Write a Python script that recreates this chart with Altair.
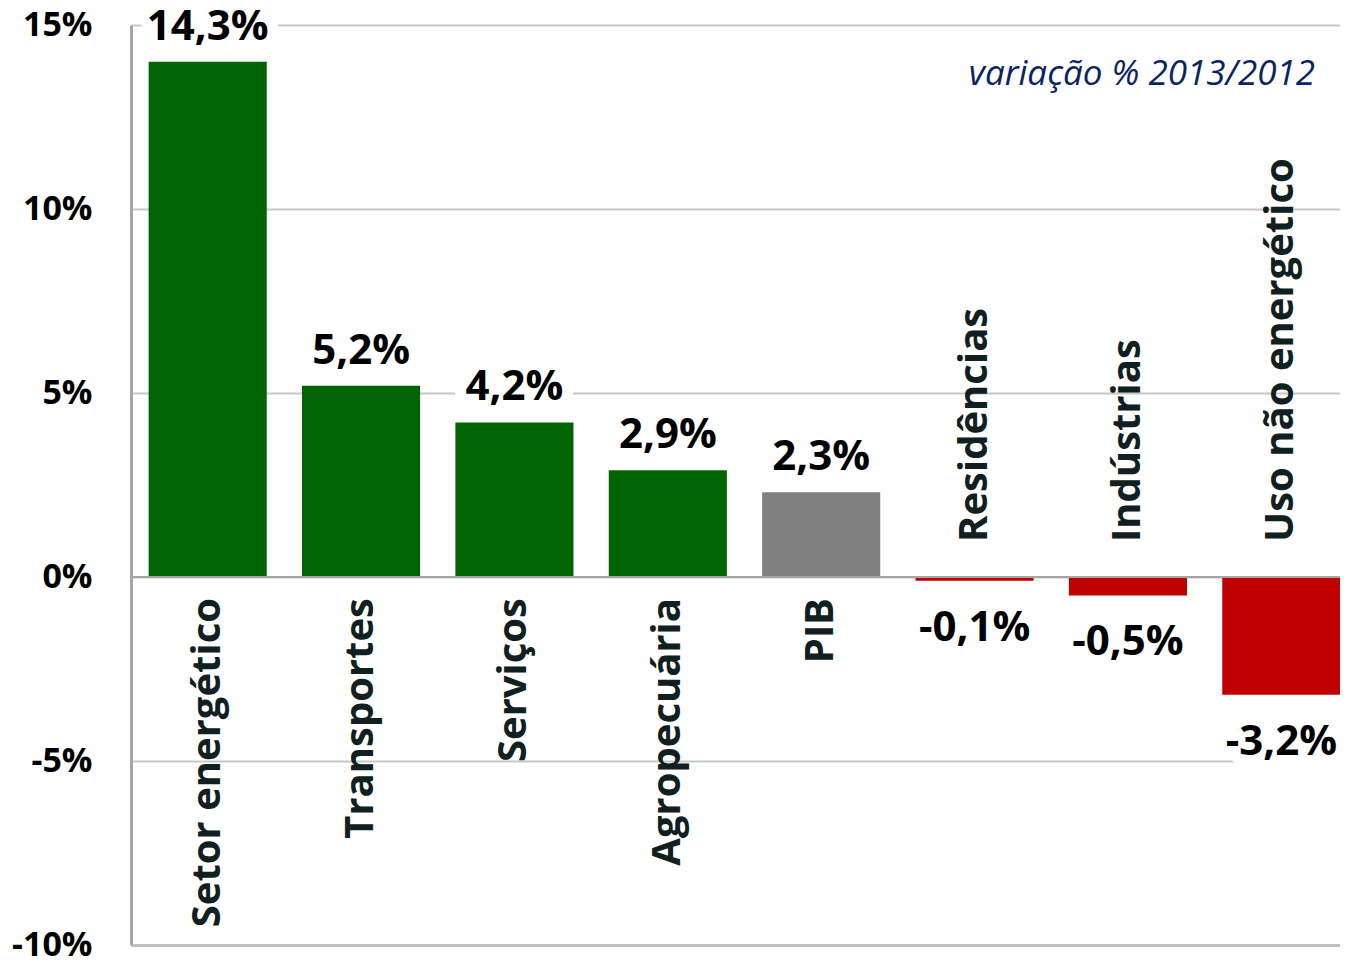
import altair as alt
import pandas as pd

categorias = ["Setor energético", "Transportes", "Serviços", "Agropecuária",
              "PIB", "Residências", "Indústrias", "Uso não energético"]
valores = [14.0, 5.2, 4.2, 2.9, 2.3, -0.1, -0.5, -3.2]
rotulos = ["14,3%", "5,2%", "4,2%", "2,9%", "2,3%", "-0,1%", "-0,5%", "-3,2%"]
cores = ["#006400", "#006400", "#006400", "#006400", "#808080",
         "#C00000", "#C00000", "#C00000"]
ticks_y = [-10, -5, 0, 5, 10, 15]
subtitulo = "variação % 2013/2012"

df = pd.DataFrame({"categoria": categorias, "valor": valores,
                   "rotulo": rotulos, "cor": cores})

FONT = "Open Sans"

xenc = alt.X("categoria:N", sort=categorias,
             scale=alt.Scale(range=[0, 1227], paddingInner=0.23, paddingOuter=0.115),
             axis=alt.Axis(labels=False, ticks=False, title=None, grid=False,
                           domain=True, domainColor="#bfbfbf", domainWidth=3))
yscale = alt.Scale(domain=[-10, 15], nice=False, zero=False)

base = alt.Chart(df).encode(x=xenc)

bars = base.mark_bar().encode(
    y=alt.Y("valor:Q", scale=yscale,
            axis=alt.Axis(values=ticks_y, labelExpr="datum.value + '%'",
                          labelFont=FONT, labelFontSize=34, labelFontWeight="bold",
                          labelColor="black", labelPadding=39, ticks=False,
                          domainColor="#a6a6a6", domainWidth=3,
                          gridColor="#c8c8c8", gridWidth=2, title=None)),
    color=alt.Color("cor:N", scale=None),
)

zero = alt.Chart(pd.DataFrame({"z": [0]})).mark_rule(
    color="#a6a6a6", strokeWidth=2).encode(y=alt.Y("z:Q", scale=yscale))

pos = base.transform_filter("datum.valor >= 0")
neg = base.transform_filter("datum.valor < 0")

txt_kw = dict(font=FONT, fontSize=42, fontWeight="bold", baseline="alphabetic")
halo_kw = dict(stroke="white", strokeWidth=22, color="white", strokeJoin="round")

pos_halo = pos.mark_text(dy=-22, **halo_kw, **txt_kw).encode(
    y=alt.Y("valor:Q", scale=yscale), text="rotulo:N")
pos_lab = pos.mark_text(dy=-22, color="black", **txt_kw).encode(
    y=alt.Y("valor:Q", scale=yscale), text="rotulo:N")
neg_halo = neg.mark_text(dy=60, **halo_kw, **txt_kw).encode(
    y=alt.Y("valor:Q", scale=yscale), text="rotulo:N")
neg_lab = neg.mark_text(dy=60, color="black", **txt_kw).encode(
    y=alt.Y("valor:Q", scale=yscale), text="rotulo:N")

cat_kw = dict(font=FONT, fontSize=40, fontWeight="bold", baseline="middle",
              angle=270, color="#102020")
pos_cat = pos.mark_text(align="right", dx=-21, **cat_kw).encode(
    y=alt.datum(0, scale=yscale), text="categoria:N")
neg_cat = neg.mark_text(align="left", dx=35, **cat_kw).encode(
    y=alt.datum(0, scale=yscale), text="categoria:N")

sub = alt.Chart(pd.DataFrame({"t": [subtitulo]})).mark_text(
    align="right", baseline="alphabetic", font=FONT, fontSize=35,
    fontStyle="italic", color="#0a2463").encode(
    x=alt.value(1184), y=alt.value(60), text="t:N")

chart = alt.layer(bars, zero, pos_halo, neg_halo, pos_lab, neg_lab,
                  pos_cat, neg_cat, sub).properties(
    width=1209, height=920,
    autosize=alt.AutoSizeParams(type="none"),
    padding={"left": 123, "top": 17, "right": 0, "bottom": 17},
).configure_view(stroke=None).configure(background="white")

chart.save("out.html", embed_options={"renderer": "svg", "actions": False})
